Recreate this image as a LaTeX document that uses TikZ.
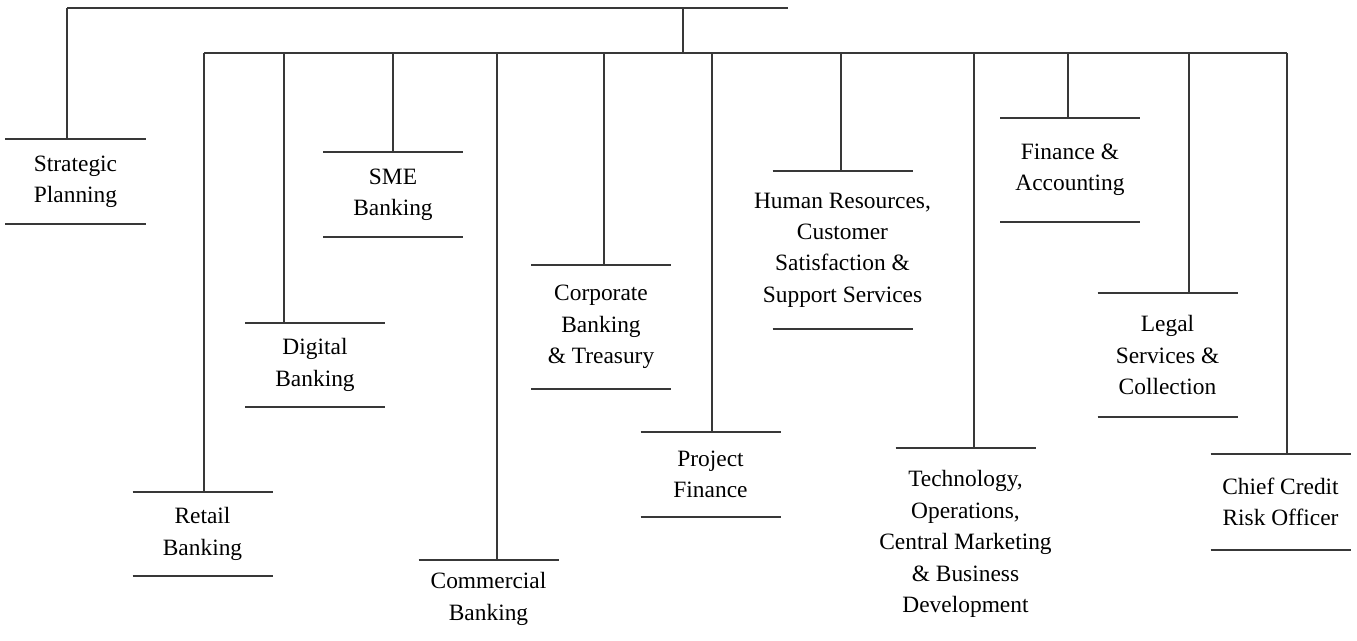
\documentclass[tikz,border=0pt]{standalone}
\usepackage{fontspec}
\setmainfont{Liberation Serif}
\begin{document}
\begin{tikzpicture}[x=1bp,y=-1bp,
  unit/.style={inner sep=0pt, outer sep=0pt, minimum width=140bp, align=center,
    font=\fontsize{23.5}{31.5}\selectfont, anchor=north},
  rule/.style={draw=black!78, line width=1.5bp}]
\useasboundingbox (0,0) rectangle (1357,641);
% units
\node[unit, minimum height=85bp]  (strat)   at (75.5,139)  {Strategic\\Planning};
\node[unit, minimum height=84bp]  (retail)  at (202.5,492) {Retail\\Banking};
\node[unit, minimum height=84bp]  (digital) at (315,323)   {Digital\\Banking};
\node[unit, minimum height=85bp]  (sme)     at (393,152)   {SME\\Banking};
\node[unit, minimum height=78bp]  (comm)    at (488.5,560) {Commercial\\Banking};
\node[unit, minimum height=124bp] (corp)    at (601,265)   {Corporate\\Banking\\\& Treasury};
\node[unit, minimum height=85bp]  (proj)    at (710.5,432) {Project\\Finance};
\node[unit, minimum height=158bp] (hr)      at (842.5,171) {Human Resources,\\Customer\\Satisfaction \&\\Support Services};
\node[unit, minimum height=192bp] (tech)    at (965.5,448) {Technology,\\Operations,\\Central Marketing\\\& Business\\Development};
\node[unit, minimum height=104bp] (fin)     at (1070,118)  {Finance \&\\Accounting};
\node[unit, minimum height=124bp] (legal)   at (1167.5,293){Legal\\Services \&\\Collection};
\node[unit, minimum height=96bp]  (chief)   at (1280.5,454){Chief Credit\\Risk Officer};
% rules above and below the units (140 wide, centred on each unit)
\foreach \n in {strat,retail,digital,sme,comm,corp,proj,hr,tech,fin,legal,chief}
  \draw[rule] ([xshift=-70bp]\n.north) -- ([xshift=70bp]\n.north);
\foreach \n in {strat,retail,digital,sme,corp,proj,hr,fin,legal,chief}
  \draw[rule] ([xshift=-70bp]\n.south) -- ([xshift=70bp]\n.south);
% bars
\coordinate (tbL) at (67,8);
\coordinate (tbR) at (788,8);
\coordinate (tbS) at (683,8);
\coordinate (mbL) at (204,53);
\coordinate (mbR) at (1287,53);
\coordinate (mbS) at (683,53);
\draw[rule] (tbL) -- (tbR);
\draw[rule] (tbS) -- (mbS);
\draw[rule] (mbL) -- (mbR);
\draw[rule] (tbL) -- (tbL |- strat.north);
% stems
\foreach \n/\x in {retail/204,digital/284,sme/393,comm/497,corp/604,proj/712,hr/841,tech/974,fin/1068,legal/1189,chief/1287}{
  \coordinate (s\n) at (\x,53);
  \draw[rule] (s\n) -- (s\n |- \n.north);
}
\end{tikzpicture}
\end{document}
